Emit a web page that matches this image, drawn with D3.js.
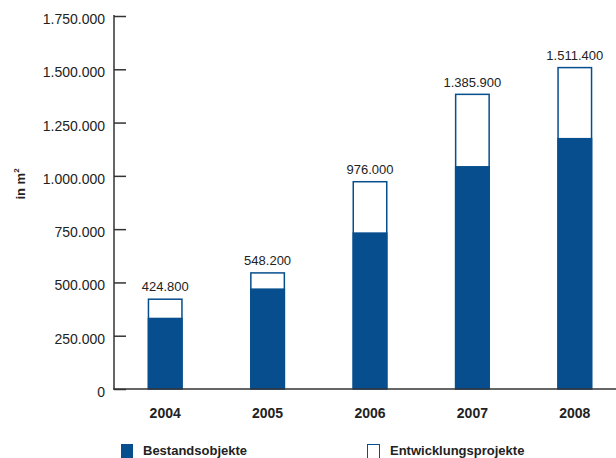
<!DOCTYPE html>
<html><head><meta charset="utf-8">
<script src="https://cdn.jsdelivr.net/npm/d3@7"></script>
<style>body{margin:0;background:#fff}svg{display:block}text{font-family:"Liberation Sans",Arial,sans-serif;fill:#222}</style>
</head><body>
<script>
const years = ["2004","2005","2006","2007","2008"];
const bestand = [334500, 472000, 735000, 1046000, 1178000];
const totals = [424800, 548200, 976000, 1385900, 1511400];
const totalLabels = ["424.800","548.200","976.000","1.385.900","1.511.400"];
const yTicks = [0,250000,500000,750000,1000000,1250000,1500000,1750000];
const yTickLabels = ["0","250.000","500.000","750.000","1.000.000","1.250.000","1.500.000","1.750.000"];
const seriesNames = ["Bestandsobjekte","Entwicklungsprojekte"];

const W=616,H=458, blue="#064e8e";
const svg=d3.select("body").append("svg").attr("width",W).attr("height",H);
const x=d3.scaleBand().domain(years).range([114,626]).padding(0);
const y=d3.scaleLinear().domain([0,1750000]).range([389,16]);
const bw=35;

// bars
const g=svg.append("g");
years.forEach((yr,i)=>{
  const cx=x(yr)+x.bandwidth()/2;
  g.append("rect").attr("x",cx-bw/2+0.75).attr("y",y(totals[i])+0.75)
    .attr("width",bw-1.5).attr("height",y(0)-y(totals[i])-0.75)
    .attr("fill","#fff").attr("stroke",blue).attr("stroke-width",1.5);
  g.append("rect").attr("x",cx-bw/2).attr("y",y(bestand[i]))
    .attr("width",bw).attr("height",y(0)-y(bestand[i])).attr("fill",blue);
  g.append("text").attr("x",cx).attr("y",y(totals[i])-7).attr("text-anchor","middle")
    .attr("font-size",13).text(totalLabels[i]);
});

// y axis
const ya=svg.append("g").attr("transform","translate(114,0)")
  .call(d3.axisRight(y).tickValues(yTicks).tickSize(12).tickFormat((d,i)=>""));
ya.select(".domain").remove();
ya.selectAll(".tick line").attr("stroke","#333").attr("stroke-width",1.5);
svg.append("line").attr("x1",114).attr("x2",114).attr("y1",15).attr("y2",389).attr("stroke","#333").attr("stroke-width",1.5);
svg.append("line").attr("x1",113).attr("x2",616).attr("y1",389).attr("y2",389).attr("stroke","#333").attr("stroke-width",1.5);
svg.append("g").selectAll("text").data(yTicks).join("text")
  .attr("x",105).attr("y",d=>y(d)+8).attr("text-anchor","end").attr("font-size",14)
  .text((d,i)=>yTickLabels[i]);

// x labels
svg.append("g").selectAll("text").data(years).join("text")
  .attr("x",d=>x(d)+x.bandwidth()/2).attr("y",418).attr("text-anchor","middle")
  .attr("font-size",14).attr("font-weight","bold").text(d=>d);

// y title
const t=svg.append("text").attr("transform","translate(25,184) rotate(-90)")
  .attr("text-anchor","middle").attr("font-size",13).attr("font-weight","bold");
t.append("tspan").text("in m");
t.append("tspan").attr("font-size",8).attr("dy",-6).text("2");

// legend
svg.append("rect").attr("x",121).attr("y",444).attr("width",12).attr("height",14).attr("fill",blue);
svg.append("text").attr("x",143).attr("y",454.5).attr("font-size",13).attr("font-weight","bold").text(seriesNames[0]);
svg.append("rect").attr("x",367.5).attr("y",444.5).attr("width",12).attr("height",14).attr("fill","#fff").attr("stroke",blue).attr("stroke-width",1);
svg.append("text").attr("x",390).attr("y",454.5).attr("font-size",13).attr("font-weight","bold").text(seriesNames[1]);
</script>
</body></html>
